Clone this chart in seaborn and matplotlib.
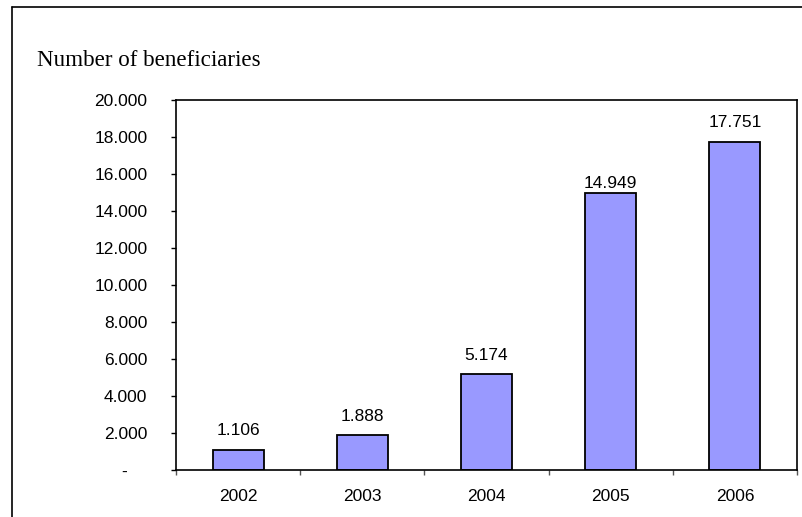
import matplotlib
matplotlib.use("Agg")
import matplotlib.pyplot as plt
from matplotlib.lines import Line2D
import seaborn as sns
import pandas as pd
import numpy as np

years = ["2002", "2003", "2004", "2005", "2006"]
beneficiaries = [1106, 1888, 5174, 14949, 17751]
y_ticks = [0, 2000, 4000, 6000, 8000, 10000, 12000, 14000, 16000, 18000, 20000]
title = "Number of beneficiaries"

def fmt(v):
    if v == 0:
        return "-    "
    return f"{int(v):,}".replace(",", ".")

sns.set_style("white")
plt.rcParams["font.family"] = ["Liberation Sans", "DejaVu Sans"]
plt.rcParams["text.color"] = "black"
plt.rcParams["xtick.color"] = "black"
plt.rcParams["ytick.color"] = "black"

fig = plt.figure(figsize=(8.02, 5.17), dpi=100)
ax = fig.add_axes([176/802, 1-470/517, (797-176)/802, (470-100)/517])

df = pd.DataFrame({"year": years, "value": beneficiaries})
sns.barplot(data=df, x="year", y="value", color="#9999FF", edgecolor="black",
            linewidth=1.3, width=0.41, saturation=1, ax=ax)

ax.set_xlim(-0.5, len(years) - 0.5)
ax.set_ylim(0, 20000)
ax.set_yticks(y_ticks)
ax.set_yticklabels([fmt(v) for v in y_ticks], fontsize=12.5, color="black")
ax.set_xticks(range(len(years)))
ax.set_xticklabels(years, fontsize=12.5, color="black")
ax.set_xticks(np.arange(-0.5, len(years), 1.0), minor=True)
ax.tick_params(axis="x", which="major", bottom=True, length=0, pad=13.5)
ax.tick_params(axis="x", which="minor", bottom=True, length=3.6, width=1, color="#555555", direction="out")
ax.tick_params(axis="y", which="major", left=True, length=3.6, width=1, color="black", direction="out", pad=17)
ax.set_xlabel("")
ax.set_ylabel("")
for s in ax.spines.values():
    s.set_color("black")
    s.set_linewidth(1.2)

label_pads = [8, 8, 8, 1.5, 8]
for c in ax.containers:
    for rect, v, p in zip(c.patches, beneficiaries, label_pads):
        ax.annotate(fmt(v), (rect.get_x() + rect.get_width() / 2, rect.get_height()),
                    xytext=(0, p), textcoords="offset points", ha="center", va="bottom",
                    fontsize=12.5, color="black")

fig.text(37/802, 1-60/517, title, fontsize=16.6, family=["Liberation Serif", "DejaVu Serif"],
         va="center", ha="left", color="black")

fig.add_artist(Line2D([12/802, 12/802], [0, 1-7/517], color="black", lw=1.2, transform=fig.transFigure))
fig.add_artist(Line2D([12/802, 1], [1-7/517, 1-7/517], color="black", lw=1.2, transform=fig.transFigure))

fig.savefig("out.png", dpi=100)
